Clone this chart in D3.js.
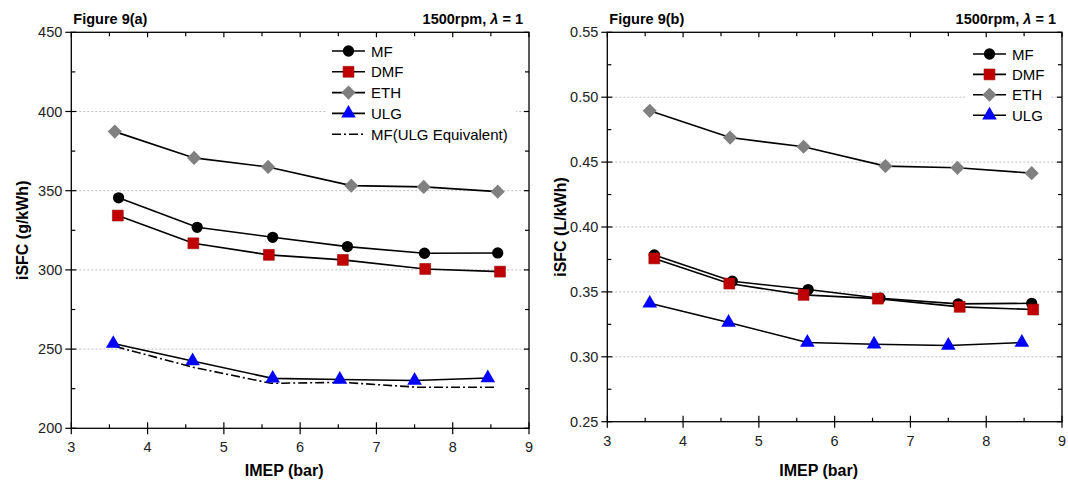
<!DOCTYPE html>
<html>
<head>
<meta charset="utf-8">
<script src="https://cdn.jsdelivr.net/npm/d3@7"></script>
<style>
body { margin: 0; background: #fff; }
svg { font-family: Arial, "Liberation Sans", sans-serif; }
</style>
</head>
<body>
<div id="chart"></div>
<script>
// ---- data ----
var seriesNames = ['MF', 'DMF', 'ETH', 'ULG'];

// Figure 9(a): iSFC in g/kWh
var mfX_a  = [3.62, 4.65, 5.64, 6.62, 7.63, 8.59];
var mf_a   = [345.5, 326.9, 320.6, 314.7, 310.5, 310.7];
var dmfX_a = [3.61, 4.60, 5.59, 6.56, 7.64, 8.62];
var dmf_a  = [334.3, 316.8, 309.5, 306.3, 300.6, 298.9];
var ethX_a = [3.57, 4.61, 5.58, 6.67, 7.62, 8.59];
var eth_a  = [387.3, 370.7, 365.0, 353.2, 352.4, 349.4];
var ulgX_a = [3.55, 4.59, 5.64, 6.52, 7.50, 8.46];
var ulg_a  = [253.5, 242.5, 231.5, 230.8, 230.2, 231.8];
var mfEqX_a = [3.58, 4.60, 5.62, 6.55, 7.55, 8.56];
var mfEq_a  = [251.6, 238.5, 228.4, 229.0, 225.9, 225.9];

// Figure 9(b): iSFC in L/kWh
var mfX_b  = [3.62, 4.65, 5.65, 6.60, 7.63, 8.60];
var mf_b   = [0.3785, 0.3582, 0.3518, 0.3451, 0.3408, 0.3412];
var dmfX_b = [3.62, 4.61, 5.59, 6.57, 7.65, 8.62];
var dmf_b  = [0.3758, 0.3564, 0.3477, 0.3448, 0.3385, 0.3364];
var ethX_b = [3.56, 4.62, 5.59, 6.67, 7.62, 8.60];
var eth_b  = [0.4895, 0.4689, 0.4618, 0.4469, 0.4456, 0.4415];
var ulgX_b = [3.56, 4.60, 5.64, 6.52, 7.50, 8.47];
var ulg_b  = [0.3412, 0.3264, 0.3110, 0.3097, 0.3087, 0.3110];

var xTicks = [3, 4, 5, 6, 7, 8, 9];
var yTicks_a = [200, 250, 300, 350, 400, 450];
var yTicks_b = [0.25, 0.30, 0.35, 0.40, 0.45, 0.50, 0.55];

var styles = {
    MF:  {symbol: 'circle',   fill: '#000000', size: 100},
    DMF: {symbol: 'square',   fill: '#c00000', size: 118},
    ETH: {symbol: 'diamond',  fill: '#808080', size: 100},
    ULG: {symbol: 'triangle', fill: '#0000ff', size: 92}
};

function zip(xs, ys){
    return xs.map(function(x, i){ return {x: x, y: ys[i]}; });
}

var svg = d3.select('#chart').append('svg')
    .attr('width', 1068)
    .attr('height', 481);

function symbolPath(name, size){
    if(name == 'circle') return d3.symbol().type(d3.symbolCircle).size(size)();
    if(name == 'triangle') return d3.symbol().type(d3.symbolTriangle).size(size)();
    return d3.symbol().type(d3.symbolSquare).size(size)();
}

function drawMarker(g, st, cx, cy){
    var p = g.append('path')
        .attr('d', symbolPath(st.symbol, st.size))
        .attr('fill', st.fill)
        .attr('transform', 'translate(' + cx + ',' + cy + ')' +
            (st.symbol == 'diamond' ? ' rotate(45)' : ''));
    if(st.symbol == 'square'){
        p.attr('stroke', '#a00000').attr('stroke-width', 0.6)
         .attr('stroke-linejoin', 'round');
    }
}

function drawPanel(cfg){
    var x = d3.scaleLinear().domain([3, 9]).range([cfg.left, cfg.right]);
    var y = d3.scaleLinear().domain(cfg.yDomain).range([cfg.bottom, cfg.top]);
    var g = svg.append('g');

    // dotted grid on major y ticks
    g.selectAll('.grid')
        .data(cfg.yTicks.slice(1, -1))
        .enter().append('line')
        .attr('x1', cfg.left).attr('x2', cfg.right)
        .attr('y1', function(d){ return y(d); })
        .attr('y2', function(d){ return y(d); })
        .attr('stroke', '#bdbdbd')
        .attr('stroke-width', 1)
        .attr('stroke-dasharray', '2,2');

    // series lines
    var line = d3.line()
        .x(function(d){ return x(d.x); })
        .y(function(d){ return y(d.y); });

    cfg.series.forEach(function(s){
        g.append('path')
            .datum(s.data)
            .attr('d', line)
            .attr('fill', 'none')
            .attr('stroke', '#000')
            .attr('stroke-width', 1.6)
            .attr('stroke-dasharray', s.dash || null);
    });
    cfg.series.forEach(function(s){
        if(!s.style) return;
        s.data.forEach(function(d){
            drawMarker(g, s.style, x(d.x), y(d.y));
        });
    });

    // legend with white background
    var lg = g.append('g');
    lg.append('rect')
        .attr('x', cfg.legendX - 6).attr('y', cfg.legendY - 11)
        .attr('width', cfg.legendW).attr('height', cfg.legendRows.length * cfg.legendStep + 4)
        .attr('fill', '#fff');
    cfg.legendRows.forEach(function(r, i){
        var ly = cfg.legendY + i * cfg.legendStep;
        lg.append('line')
            .attr('x1', cfg.legendX).attr('x2', cfg.legendX + 33)
            .attr('y1', ly).attr('y2', ly)
            .attr('stroke', '#000').attr('stroke-width', 1.6)
            .attr('stroke-dasharray', r.dash || null);
        if(r.style) drawMarker(lg, r.style, cfg.legendX + 16.5, ly);
        lg.append('text')
            .attr('x', cfg.legendX + 39).attr('y', ly + 5.5)
            .attr('font-size', 15)
            .text(r.label);
    });

    // frame
    g.append('rect')
        .attr('x', cfg.left).attr('y', cfg.top)
        .attr('width', cfg.right - cfg.left).attr('height', cfg.bottom - cfg.top)
        .attr('fill', 'none').attr('stroke', '#000').attr('stroke-width', 1.3);

    // axes: major ticks cross the axis, minor ticks inward
    var yMinor = d3.range(cfg.yTicks.length - 1).map(function(i){
        return (cfg.yTicks[i] + cfg.yTicks[i + 1]) / 2;
    });
    var xMinor = d3.range(xTicks.length - 1).map(function(i){
        return xTicks[i] + 0.5;
    });
    var tk = g.append('g').attr('stroke', '#000').attr('stroke-width', 1.2);
    cfg.yTicks.forEach(function(v){
        tk.append('line').attr('x1', cfg.left - 6).attr('x2', cfg.left + 5)
            .attr('y1', y(v)).attr('y2', y(v));
        tk.append('line').attr('x1', cfg.right - 5).attr('x2', cfg.right)
            .attr('y1', y(v)).attr('y2', y(v));
    });
    yMinor.forEach(function(v){
        tk.append('line').attr('x1', cfg.left).attr('x2', cfg.left + 4)
            .attr('y1', y(v)).attr('y2', y(v));
        tk.append('line').attr('x1', cfg.right - 4).attr('x2', cfg.right)
            .attr('y1', y(v)).attr('y2', y(v));
    });
    xTicks.forEach(function(v){
        tk.append('line').attr('x1', x(v)).attr('x2', x(v))
            .attr('y1', cfg.bottom - 6).attr('y2', cfg.bottom + 6);
        tk.append('line').attr('x1', x(v)).attr('x2', x(v))
            .attr('y1', cfg.top).attr('y2', cfg.top + 5);
    });
    xMinor.forEach(function(v){
        tk.append('line').attr('x1', x(v)).attr('x2', x(v))
            .attr('y1', cfg.bottom - 4).attr('y2', cfg.bottom);
        tk.append('line').attr('x1', x(v)).attr('x2', x(v))
            .attr('y1', cfg.top).attr('y2', cfg.top + 4);
    });

    // tick labels
    g.selectAll('.ylab')
        .data(cfg.yTicks)
        .enter().append('text')
        .attr('x', cfg.left - 9)
        .attr('y', function(d){ return y(d) + 5; })
        .attr('text-anchor', 'end')
        .attr('font-size', 14.5)
        .attr('fill', '#222')
        .text(cfg.yFormat);
    g.selectAll('.xlab')
        .data(xTicks)
        .enter().append('text')
        .attr('x', function(d){ return x(d); })
        .attr('y', cfg.bottom + 24)
        .attr('text-anchor', 'middle')
        .attr('font-size', 14.5)
        .attr('fill', '#222')
        .text(function(d){ return d; });

    // axis titles
    g.append('text')
        .attr('x', (cfg.left + cfg.right) / 2 - 16)
        .attr('y', 476)
        .attr('text-anchor', 'middle')
        .attr('font-size', 16).attr('font-weight', 'bold')
        .text('IMEP (bar)');
    g.append('text')
        .attr('transform', 'translate(' + cfg.yTitleX + ',' + ((cfg.top + cfg.bottom) / 2) + ') rotate(-90)')
        .attr('text-anchor', 'middle')
        .attr('font-size', 16).attr('font-weight', 'bold')
        .text(cfg.yTitle);

    // headings
    g.append('text')
        .attr('x', cfg.left + 2).attr('y', 24)
        .attr('font-size', 14.5).attr('font-weight', 'bold')
        .text(cfg.figure);
    var h = g.append('text')
        .attr('x', cfg.right - 6).attr('y', 24)
        .attr('text-anchor', 'end')
        .attr('font-size', 14.5).attr('font-weight', 'bold');
    h.append('tspan').text('1500rpm, ');
    h.append('tspan').attr('font-style', 'italic').text('λ');
    h.append('tspan').text(' = 1');
}

drawPanel({
    left: 71.3, right: 529, top: 32.3, bottom: 428.3,
    yDomain: [200, 450], yTicks: yTicks_a,
    yFormat: function(d){ return d; },
    yTitle: 'iSFC (g/kWh)', yTitleX: 28, figure: 'Figure 9(a)',
    series: [
        {data: zip(mfEqX_a, mfEq_a), dash: '9,3,2,3'},
        {data: zip(ethX_a, eth_a), style: styles.ETH},
        {data: zip(mfX_a, mf_a), style: styles.MF},
        {data: zip(dmfX_a, dmf_a), style: styles.DMF},
        {data: zip(ulgX_a, ulg_a), style: styles.ULG}
    ],
    legendX: 332, legendY: 51, legendStep: 20.8, legendW: 190,
    legendRows: [
        {label: 'MF', style: styles.MF},
        {label: 'DMF', style: styles.DMF},
        {label: 'ETH', style: styles.ETH},
        {label: 'ULG', style: styles.ULG},
        {label: 'MF(ULG Equivalent)', dash: '9,3,2,3'}
    ]
});

drawPanel({
    left: 607.3, right: 1062, top: 32.3, bottom: 421.7,
    yDomain: [0.25, 0.55], yTicks: yTicks_b,
    yFormat: d3.format('.2f'),
    yTitle: 'iSFC (L/kWh)', yTitleX: 566, figure: 'Figure 9(b)',
    series: [
        {data: zip(ethX_b, eth_b), style: styles.ETH},
        {data: zip(mfX_b, mf_b), style: styles.MF},
        {data: zip(dmfX_b, dmf_b), style: styles.DMF},
        {data: zip(ulgX_b, ulg_b), style: styles.ULG}
    ],
    legendX: 973, legendY: 54, legendStep: 20.4, legendW: 84,
    legendRows: [
        {label: 'MF', style: styles.MF},
        {label: 'DMF', style: styles.DMF},
        {label: 'ETH', style: styles.ETH},
        {label: 'ULG', style: styles.ULG}
    ]
});
</script>
</body>
</html>
